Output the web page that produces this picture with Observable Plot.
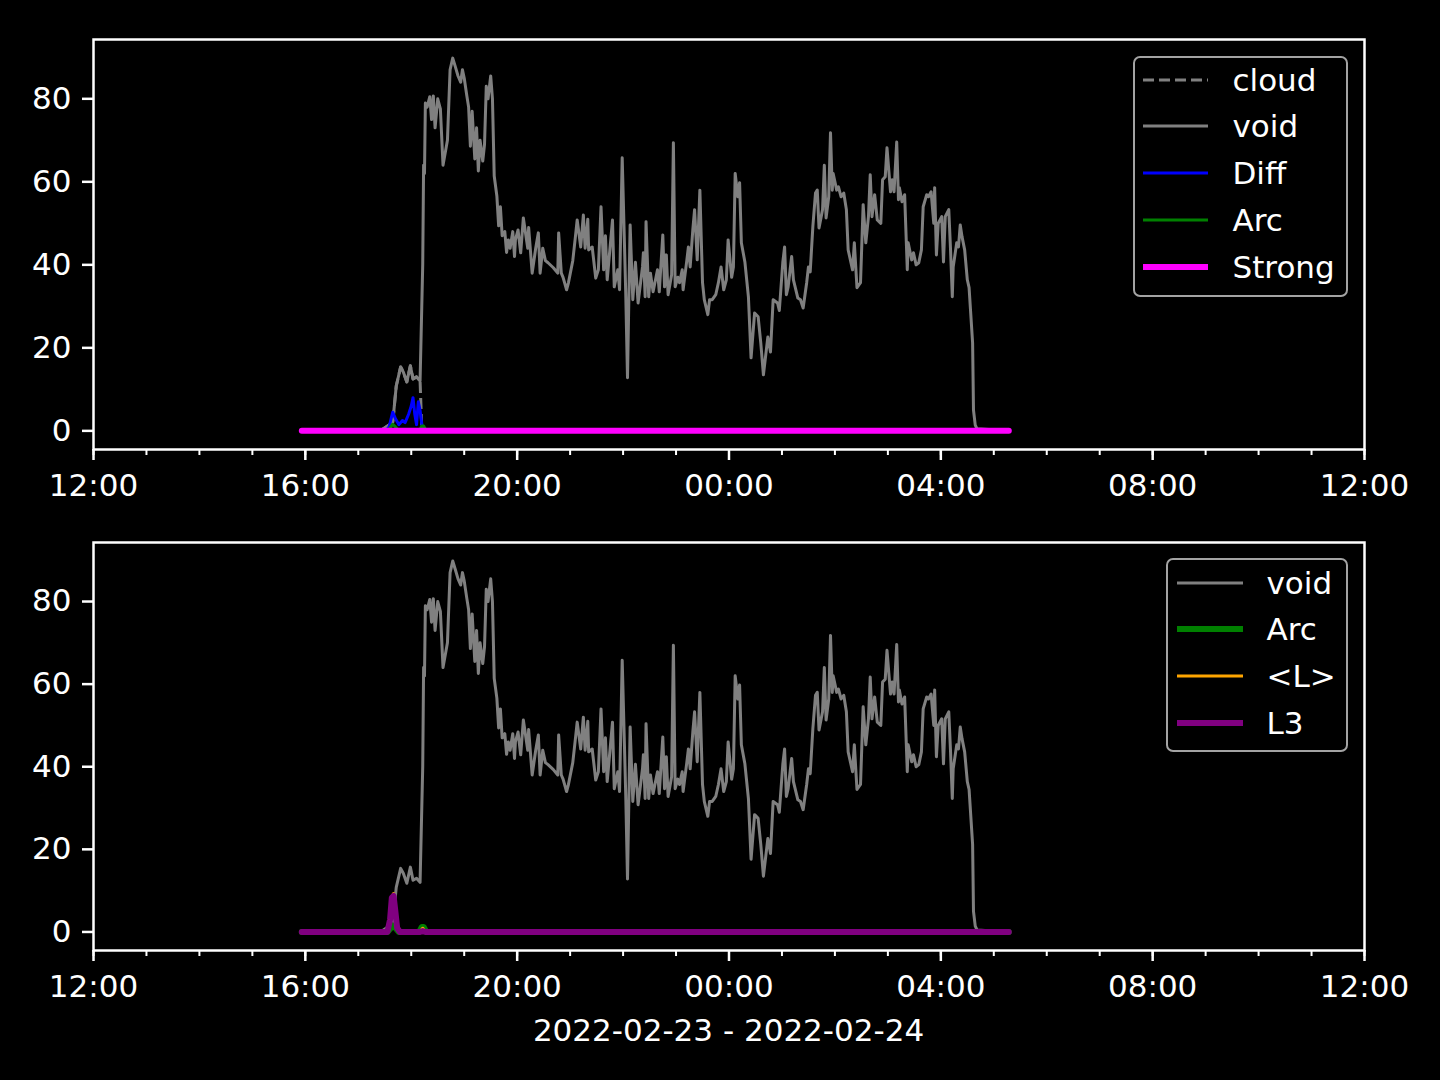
<!DOCTYPE html>
<html><head><meta charset="utf-8">
<script src="https://cdn.jsdelivr.net/npm/d3@7"></script>
<script src="https://cdn.jsdelivr.net/npm/@observablehq/plot@0.6"></script>
<style>
html,body{margin:0;padding:0;background:#000;width:1440px;height:1080px;overflow:hidden;font-family:"DejaVu Sans",sans-serif;color:#fff;}
#top,#bottom{position:absolute;left:0;}
#top{top:0;}
#bottom{top:503px;}
.legend{position:absolute;box-sizing:border-box;border:2.5px solid #a3a3a3;border-radius:7px;background:#000;color:#fff;font-size:31px;}
.legend span{position:absolute;line-height:40px;white-space:nowrap;}
.legend svg{position:absolute;overflow:visible;}
#xlabel{position:absolute;left:93px;width:1271px;top:1012px;text-align:center;font-size:31px;line-height:36px;}
</style></head>
<body>
<div id="top"></div>
<div id="bottom"></div>
<div id="xlabel">2022-02-23 - 2022-02-24</div>
<script>
// ---- data (times: HH:MM, >=12:00 is 2022-02-23, <12:00 is 2022-02-24) ----
const voidTime = ["15:56","17:25","17:39","17:43","17:48","17:51","17:55","17:59","18:02","18:06","18:10","18:13","18:14","18:15","18:16","18:18","18:21","18:23","18:25","18:27","18:30","18:33","18:36","18:41","18:44","18:47","18:50","18:53","18:56","18:58","19:00","19:03","19:05","19:07","19:09","19:12","19:14","19:16","19:18","19:21","19:23","19:25","19:27","19:30","19:32","19:34","19:37","19:39","19:41","19:43","19:46","19:48","19:50","19:52","19:55","19:57","19:58","20:01","20:04","20:07","20:12","20:13","20:17","20:21","20:24","20:26","20:29","20:32","20:35","20:41","20:46","20:47","20:50","20:52","20:56","20:58","21:03","21:06","21:08","21:12","21:15","21:17","21:20","21:21","21:25","21:29","21:32","21:35","21:38","21:40","21:42","21:48","21:50","21:54","21:56","21:59","22:03","22:05","22:08","22:11","22:14","22:17","22:22","22:23","22:25","22:26","22:29","22:31","22:34","22:39","22:41","22:45","22:47","22:49","22:51","22:55","22:57","22:59","23:02","23:04","23:07","23:08","23:12","23:14","23:16","23:19","23:21","23:24","23:27","23:30","23:32","23:36","23:38","23:41","23:45","23:48","23:51","23:54","23:57","23:59","00:03","00:05","00:07","00:10","00:12","00:14","00:18","00:22","00:25","00:29","00:33","00:36","00:39","00:44","00:47","00:50","00:55","00:57","01:01","01:03","01:05","01:07","01:11","01:13","01:18","01:21","01:24","01:28","01:30","01:32","01:35","01:38","01:40","01:42","01:46","01:48","01:50","01:53","01:55","01:57","01:58","02:02","02:04","02:07","02:10","02:13","02:15","02:20","02:22","02:25","02:29","02:32","02:35","02:38","02:40","02:42","02:45","02:48","02:52","02:54","02:57","02:59","03:03","03:05","03:07","03:10","03:12","03:13","03:16","03:19","03:22","03:23","03:27","03:29","03:32","03:35","03:38","03:40","03:44","03:46","03:49","03:52","03:53","03:55","03:57","04:01","04:03","04:05","04:09","04:11","04:13","04:14","04:18","04:20","04:22","04:24","04:27","04:30","04:32","04:36","04:37","04:39","04:41","05:17"];
const voidValue = [0,0,2,10.8,15.4,14.2,11.8,15.7,12.5,13,12,40,64,62,79,78,80.5,75,80.7,73,80,77.6,64,70,87,89.8,87.7,85.5,84,87,85,80.7,78,68.6,77,65.5,73,62.6,70,65,69,83,80,85.5,80,61.4,56.6,49.4,54,47,48,43,46,44,48,42,46,48.4,42.9,51.3,44,49,38,44,47.7,38,44,41,40.5,39.3,38,47.7,38,37,34,35.6,41,46.8,50.8,44.3,52,44,51,43.6,44.3,36.8,38.8,54,38.8,47,36.4,50.8,34.7,38.8,34,65.8,33.2,12.8,49.6,31.6,40.6,30.8,39.5,42.9,32.3,50.4,32.3,38,33.5,38.8,33.5,47.2,34.7,42.4,32.8,37.6,69.4,34.7,37,35.7,38.8,34,40.7,44.3,39.5,48.4,53.3,41.2,58,35.7,31.6,28,31.6,31.6,32.8,35.7,39.5,34,36.4,46,37,39.5,62,56.4,59.8,45.3,40.7,32.3,17.6,28.4,27.5,21.2,13.5,22.6,19,31.6,30.8,29,40.7,44.3,32.8,34.7,42,36.4,32,31.6,29.6,35.7,39.5,38.3,49.2,57.3,58,48.9,53.3,64,51.3,56.4,71.8,58,62,58,58.8,56.4,57.3,53.3,43.6,38.8,45.3,34.5,35.7,54.5,45.3,51.6,61.7,51.6,56.9,50.8,50,60.5,61.2,68.2,57.6,60.5,57.6,69.6,55.7,58.6,55.2,56.9,38.8,45.3,41.2,42.9,40,40.5,43.6,54,56.9,56.4,57.6,50,58.6,42.4,50,51.6,40.7,51.6,53.3,43.6,32.3,39.5,45.3,44.3,49.6,46.8,43.6,36.4,34.5,21.2,5,1.4,0.5,0];

const cloudTime = ["17:25","17:39","17:43","17:48","17:51","17:55","17:59","18:02","18:06","18:10","18:12","05:17"];
const cloudValue = [0,2,10.8,15.4,14.2,11.8,15.7,12.5,13,12,0,0];

const diffTime = ["15:56","17:31","17:35","17:39","17:42","17:46","17:50","17:53","17:57","18:00","18:02","18:04","18:06","18:08","18:10","18:12","18:14","05:17"];
const diffValue = [0,0,1,4.5,3,1.5,2.5,2,4,6,8,4,1.5,7,5,1.5,0,0];

const arcTime = ["15:56","17:33","17:37","17:39","17:42","17:46","18:09","18:12","18:14","18:17","05:17"];
const arcValue = [0,0,1,1.6,1,0,0,1.2,1.2,0,0];

const strongTime = ["15:56","05:17"];
const strongValue = [0,0];

const lTime = ["15:56","17:33","17:36","17:38","17:40","17:42","17:44","17:47","18:10","18:13","18:16","05:17"];
const lValue = [0,0,3.5,8.5,9.3,5.5,1.5,0,0,0.9,0,0];
const l3Value = [0,0,3,8.3,8.7,5,1,0,0,0.2,0,0];

const yTicks = [0,20,40,60,80];

// ---- helpers ----
function toDate(hm){
  const [h,m] = hm.split(":").map(Number);
  const day = h >= 12 ? 23 : 24;
  return new Date(Date.UTC(2022,1,day,h,m));
}
function table(times, values){ return times.map((t,i)=>({t:toDate(t), v:values[i]})); }

const xDomain = [new Date(Date.UTC(2022,1,23,12)), new Date(Date.UTC(2022,1,24,12))];
const xEnd = new Date(+xDomain[1] + 1);
const majorTicks = d3.utcHour.every(4).range(xDomain[0], xEnd);
const minorTicks = d3.utcHour.range(xDomain[0], xEnd);

function panel(series, height, marginBottom){
  return Plot.plot({
    width: 1440, height,
    marginLeft: 93, marginRight: 76, marginTop: 39, marginBottom,
    x: {type: "utc", domain: xDomain},
    y: {domain: [-4.49, 94.29]},
    style: {background: "transparent", color: "white", fontFamily: "'DejaVu Sans', sans-serif", fontSize: "31px", overflow: "visible"},
    marks: [
      ...series.map(s => Plot.line(table(s.time, s.value), {x: "t", y: "v", stroke: s.color, strokeWidth: s.width, strokeDasharray: s.dash, strokeLinejoin: "round", strokeLinecap: s.dash ? "butt" : "round"})),
      Plot.axisX({ticks: minorTicks, tickSize: 6, tickFormat: () => "", strokeWidth: 2, label: null}),
      Plot.axisX({ticks: majorTicks, tickSize: 11, tickPadding: 13, tickFormat: d3.utcFormat("%H:%M"), strokeWidth: 2.5, label: null, fontSize: 31}),
      Plot.axisY({ticks: yTicks, tickSize: 11, tickPadding: 11, strokeWidth: 2.5, label: null, fontSize: 31}),
      Plot.frame({stroke: "white", strokeWidth: 2.5})
    ]
  });
}

const topSeries = [
  {time: cloudTime, value: cloudValue, color: "#808080", width: 3, dash: "11,5"},
  {time: voidTime, value: voidValue, color: "#808080", width: 3},
  {time: diffTime, value: diffValue, color: "#0000ff", width: 3},
  {time: arcTime, value: arcValue, color: "#008000", width: 3},
  {time: strongTime, value: strongValue, color: "#ff00ff", width: 6}
];
const bottomSeries = [
  {time: voidTime, value: voidValue, color: "#808080", width: 3},
  {time: arcTime, value: arcValue, color: "#008000", width: 6},
  {time: lTime, value: lValue, color: "#ffa500", width: 3},
  {time: lTime, value: l3Value, color: "#800080", width: 6}
];

document.getElementById("top").appendChild(panel(topSeries, 503, 54));
document.getElementById("bottom").appendChild(panel(bottomSeries, 577, 130));

function legend(items, box){
  const div = document.createElement("div");
  div.className = "legend";
  Object.assign(div.style, {left: box.x+"px", top: box.y+"px", width: box.w+"px", height: box.h+"px"});
  items.forEach((it, i) => {
    const cy = box.first + i*box.step - 2.5;
    const w = box.sampleW;
    div.insertAdjacentHTML("beforeend",
      `<svg width="${w}" height="12" style="left:${box.sampleX-2.5}px;top:${cy-6}px"><line x1="0" x2="${w}" y1="6" y2="6" stroke="${it.color}" stroke-width="${it.width}" ${it.dash ? `stroke-dasharray="${it.dash}"` : ""}/></svg>` +
      `<span style="left:${box.textX-2.5}px;top:${cy-20}px">${it.label.replace(/</g,"&lt;").replace(/>/g,"&gt;")}</span>`);
  });
  document.body.appendChild(div);
}
legend([
  {label: "cloud", color: "#808080", width: 3, dash: "11,5"},
  {label: "void", color: "#808080", width: 3},
  {label: "Diff", color: "#0000ff", width: 3},
  {label: "Arc", color: "#008000", width: 3},
  {label: "Strong", color: "#ff00ff", width: 6}
], {x: 1133, y: 56, w: 215, h: 241, first: 24, step: 46.75, sampleX: 10, sampleW: 65, textX: 100});
legend([
  {label: "void", color: "#808080", width: 3},
  {label: "Arc", color: "#008000", width: 6},
  {label: "<L>", color: "#ffa500", width: 3},
  {label: "L3", color: "#800080", width: 6}
], {x: 1166, y: 558, w: 182, h: 194, first: 25, step: 46.7, sampleX: 11, sampleW: 66, textX: 101});
</script>
</body></html>
